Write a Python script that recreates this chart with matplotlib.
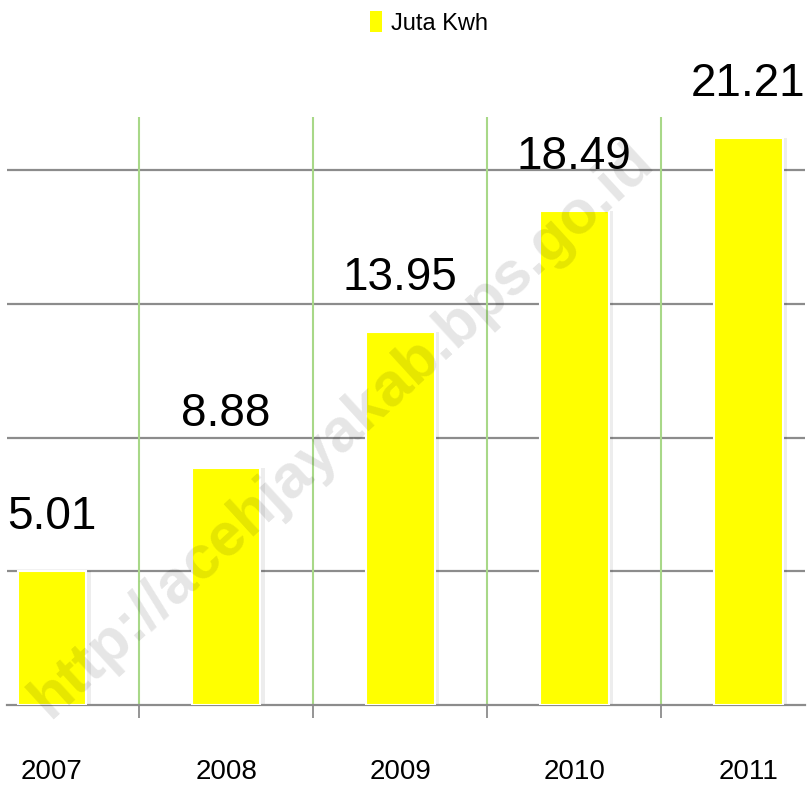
import matplotlib
matplotlib.use("Agg")
import matplotlib.pyplot as plt
from matplotlib.patches import Patch

years = ["2007", "2008", "2009", "2010", "2011"]
kwh = [5.01, 8.88, 13.95, 18.49, 21.21]
grid_levels = [5, 10, 15, 20]
legend_label = "Juta Kwh"
watermark = "http://acehjayakab.bps.go.id"

FONT = ["Liberation Sans", "DejaVu Sans"]
YELLOW = "#FFFF00"

def main():
    fig = plt.figure(figsize=(8.07, 7.90), dpi=100)
    W, H = 807, 790
    left, right, top, bottom = 7, 805, 117, 705
    ax = fig.add_axes([left / W, 1 - bottom / H, (right - left) / W, (bottom - top) / H])

    x = list(range(len(years)))
    step = 174.1
    xmin = -(52 - left) / step
    ax.set_xlim(xmin, xmin + (right - left) / step)
    ax.set_ylim(0, 22)

    # gridlines and category separators
    for g in grid_levels:
        ax.axhline(g, color="#8c8c8c", lw=1.6, zorder=1)
    seps = [i + 0.5 for i in range(len(years) - 1)]
    ax.vlines(seps, 0, 22, color="#a8d888", lw=1.5, zorder=1)

    # soft shadow behind the bars
    ax.bar([i + 0.012 for i in x], kwh, width=0.42, color="#000000", alpha=0.07, zorder=2)
    bars = ax.bar(x, kwh, width=0.395, color=YELLOW, edgecolor="white", lw=1.5, zorder=3)

    for b, v in zip(bars, kwh):
        ax.annotate(f"{v:.2f}", (b.get_x() + b.get_width() / 2, v),
                    xytext=(0, 23), textcoords="offset points",
                    ha="center", va="bottom", fontsize=33, family=FONT,
                    color="black", zorder=5, annotation_clip=False)

    for s in ["top", "left", "right"]:
        ax.spines[s].set_visible(False)
    ax.spines["bottom"].set_color("#8c8c8c")
    ax.spines["bottom"].set_linewidth(1.6)
    ax.set_yticks([])
    ax.set_xticks(seps, minor=True)
    ax.set_xticks(x)
    ax.set_xticklabels(years, fontsize=20, family=FONT, color="black")
    ax.tick_params(axis="x", which="major", length=0, pad=39)
    ax.tick_params(axis="x", which="minor", length=9, width=1.3, color="#8c8c8c")

    handle = Patch(facecolor=YELLOW, edgecolor="none")
    fig.legend(handles=[handle], labels=[legend_label], loc="center",
               bbox_to_anchor=(429 / W, 1 - 23 / H), frameon=False,
               prop={"family": FONT, "size": 17},
               handlelength=0.5, handleheight=1.0, handletextpad=0.4)

    fig.text(342 / W, 1 - 430 / H, watermark, rotation=42.5, ha="center", va="center",
             fontsize=44, fontweight="bold", family=FONT,
             color="black", alpha=0.1, zorder=10)

    fig.savefig("out.png", dpi=100)

if __name__ == "__main__":
    main()
